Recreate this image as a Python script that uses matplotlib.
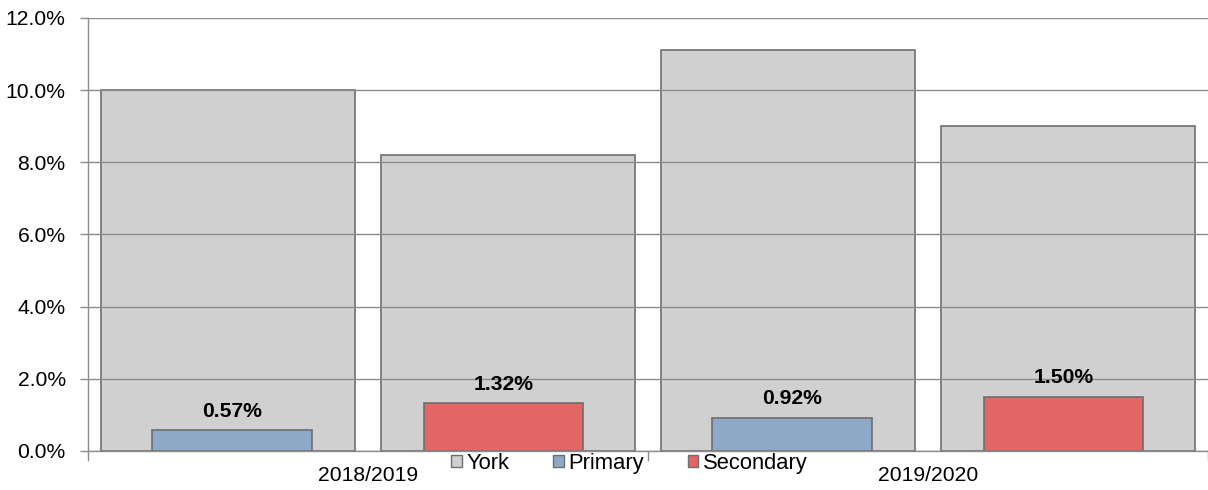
import numpy as np
import matplotlib.pyplot as plt
from matplotlib.patches import Patch

plt.rcParams['font.family'] = ['Liberation Sans', 'DejaVu Sans']

# exclusion rates, York overall vs school phase
years = ['2018/2019', '2019/2020']
york = [10.0, 8.2, 11.1, 9.0]
phase_values = [0.57, 1.32, 0.92, 1.50]
phase_names = ['Primary', 'Secondary', 'Primary', 'Secondary']

c_york = '#d0d0d0'
c_phase = {'Primary': '#8ea9c8', 'Secondary': '#e46666'}
shift = {'Primary': 0.014, 'Secondary': -0.016}
c_edge = '#6e6e6e'
c_axis = '#8c8c8c'
fs = 15.2

fig = plt.figure(figsize=(12.08, 4.90), dpi=100)
ax = fig.add_axes([0.0728, 0.0796, 0.9272, 0.8837])

x = np.arange(len(york))
ax.bar(x, york, width=0.91, color=c_york, edgecolor=c_edge, lw=1.2, zorder=1)
for xi, v, nm in zip(x, phase_values, phase_names):
    xp = xi + shift[nm]
    ax.bar(xp, v, width=0.57, color=c_phase[nm], edgecolor=c_edge, lw=1.2, zorder=1.5)
    ax.annotate('%.2f%%' % v, xy=(xp, v), xytext=(0, 7), textcoords='offset points',
                ha='center', va='bottom', fontsize=fs, fontweight='bold', zorder=4)

ax.set_xlim(-0.5, 3.5)
ax.set_ylim(0, 12)
ax.set_yticks(np.arange(0, 12.1, 2))
ax.set_yticklabels(['%.1f%%' % t for t in np.arange(0, 12.1, 2)], fontsize=fs)
ax.yaxis.grid(True, color=c_axis, lw=1)
ax.set_axisbelow(False)

# category boundaries as ticks, year labels in between
ax.set_xticks([-0.5, 1.5, 3.5])
ax.set_xticklabels([])
ax.set_xticks([0.5, 2.5], minor=True)
ax.set_xticklabels(years, minor=True, fontsize=fs)
ax.tick_params(axis='x', which='major', length=7, color=c_axis, width=1)
ax.tick_params(axis='x', which='minor', length=0, pad=11)
ax.tick_params(axis='y', length=6, color=c_axis, width=1, pad=10)

for s in ['top', 'right']:
    ax.spines[s].set_visible(False)
for s in ['left', 'bottom']:
    ax.spines[s].set_color(c_axis)
    ax.spines[s].set_linewidth(1)

handles = [Patch(facecolor=c_york, edgecolor=c_edge, label='York'),
           Patch(facecolor=c_phase['Primary'], edgecolor=c_edge, label='Primary'),
           Patch(facecolor=c_phase['Secondary'], edgecolor=c_edge, label='Secondary')]
fig.legend(handles=handles, loc='center', bbox_to_anchor=(0.521, 0.055), ncol=3,
           frameon=False, fontsize=15.8, handlelength=0.48, handleheight=0.48,
           handletextpad=0.2, columnspacing=2.0)

fig.savefig('out.png', dpi=100)
